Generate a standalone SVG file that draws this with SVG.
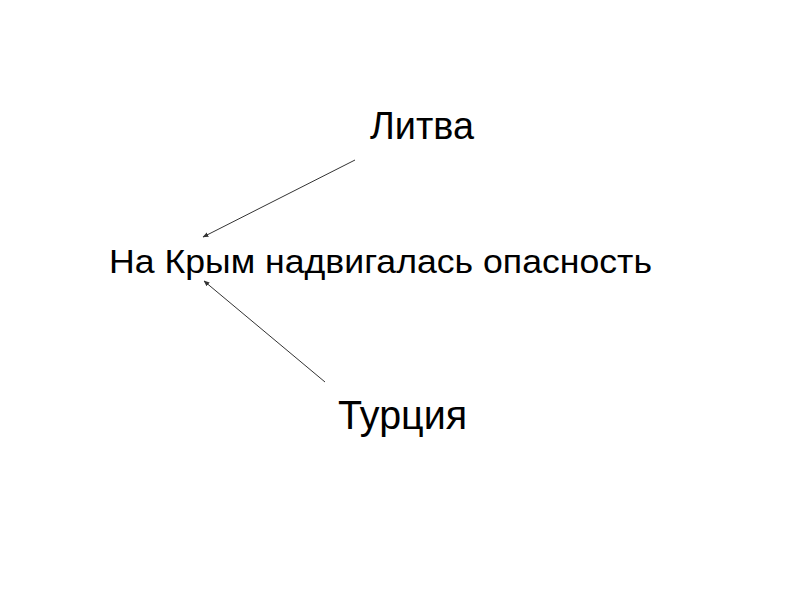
<svg xmlns="http://www.w3.org/2000/svg" width="800" height="600" viewBox="0 0 800 600">
<style>
text{font-family:"Liberation Sans",Arial,sans-serif;fill:#000}
.c{stroke:#333;stroke-width:1;fill:none;marker-end:url(#ah)}
</style>
<defs>
<marker id="ah" viewBox="0 0 10 10" refX="9" refY="5" markerWidth="6" markerHeight="6" orient="auto" markerUnits="userSpaceOnUse">
<path d="M0,1 L10,5 L0,9 z" fill="#333"/>
</marker>
</defs>
<rect width="800" height="600" fill="#fff"/>
<g id="litva"><text x="370" y="139" font-size="38" textLength="104" lengthAdjust="spacingAndGlyphs">Литва</text></g>
<g id="krym"><text x="109" y="273" font-size="34" textLength="543" lengthAdjust="spacingAndGlyphs">На Крым надвигалась опасность</text></g>
<g id="turkey"><text x="338" y="429" font-size="40" textLength="129" lengthAdjust="spacingAndGlyphs">Турция</text></g>
<g id="connectors">
<line class="c" x1="355" y1="160" x2="203" y2="237"/>
<line class="c" x1="325" y1="382" x2="204" y2="281"/>
</g>
</svg>
